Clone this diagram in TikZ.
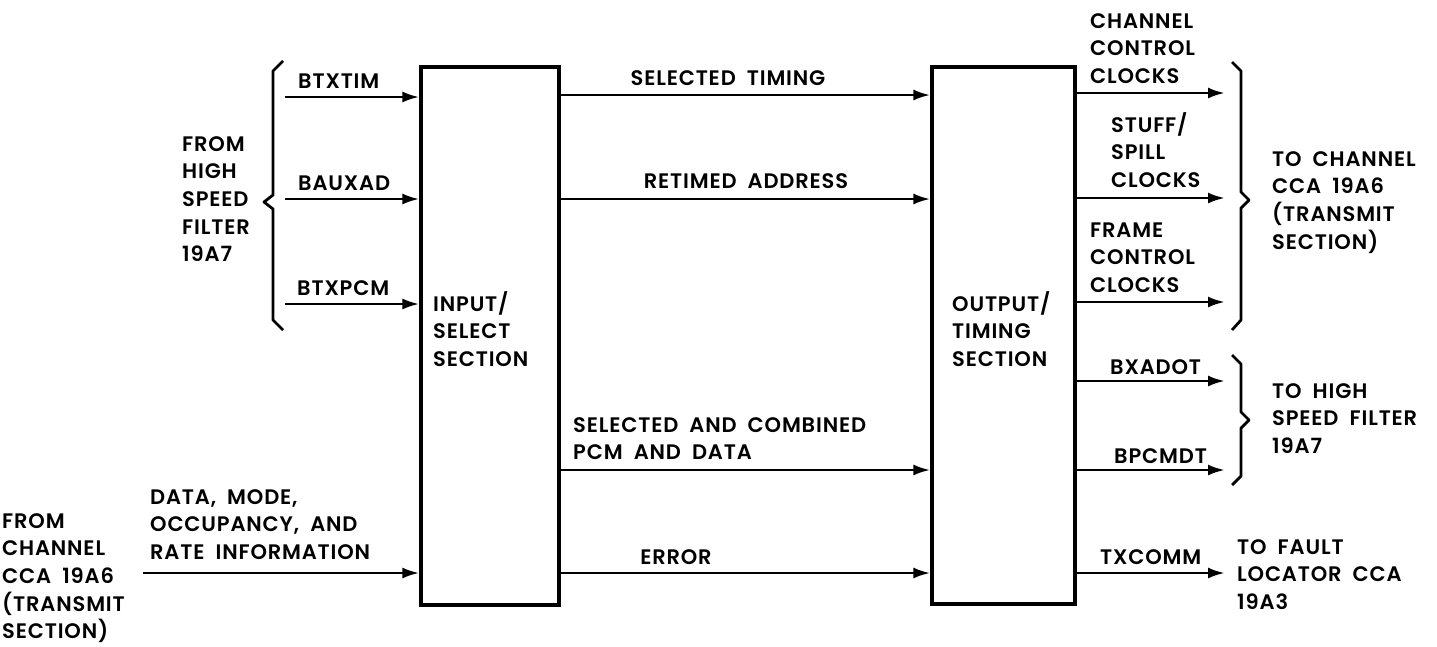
\documentclass[tikz,border=0pt]{standalone}
\usepackage{fontspec}
\setmainfont{Poppins}[UprightFont={* SemiBold}, LetterSpace=4, WordSpace=1.9]
\usetikzlibrary{arrows.meta}
\tikzset{
  box/.style={draw, line width=3.2pt, minimum width=138pt, minimum height=538pt, inner sep=0pt},
  arr/.style={line width=2.8pt, -{Latex[length=17pt,width=11pt]}},
  brc/.style={line width=2.8pt, line join=round},
  lbl/.style={anchor=base west, inner sep=0pt, align=left, font=\fontsize{21}{27.7}\selectfont},
  lblc/.style={lbl, anchor=base},
}
\begin{document}
\begin{tikzpicture}[x=1pt,y=-1pt]
\useasboundingbox (0,0) rectangle (1437,646);
% boxes
\node[box] (inp) at (490,336) {};
\node[box, minimum width=143pt, minimum height=537pt] (out) at (1003.5,335.5) {};
\node[lbl] (inptxt) at (433,366.4) {INPUT/\\SELECT\\SECTION};
\node[lbl] (outtxt) at (952,366.4) {OUTPUT/\\TIMING\\SECTION};
% left inputs
\coordinate (i1) at (285,97);
\coordinate (i2) at (285,199);
\coordinate (i3) at (285,304);
\coordinate (i4) at (143,573);
\draw[arr] (i1) -- (inp.west |- i1);
\draw[arr] (i2) -- (inp.west |- i2);
\draw[arr] (i3) -- (inp.west |- i3);
\draw[arr] (i4) -- (inp.west |- i4);
\node[lbl] (l1) at (298,88) {BTXTIM};
\node[lbl] (l2) at (298,190) {BAUXAD};
\node[lbl] (l3) at (297,295) {BTXPCM};
\node[lbl] (fromhs) at (182,261.8) {FROM\\HIGH\\SPEED\\FILTER\\19A7};
\draw[brc] (283,61) -- (273,71) -- (273,195) -- (264,202) -- (273,209) -- (273,320) -- (283,330);
\node[lbl] (datalbl) at (150,559.4) {DATA, MODE,\\OCCUPANCY, AND\\RATE INFORMATION};
\node[lbl] (fromch) at (2,638.8) {FROM\\CHANNEL\\CCA 19A6\\(TRANSMIT\\SECTION)};
% middle
\coordinate (m1) at (0,95);
\coordinate (m2) at (0,199);
\coordinate (m3) at (0,470);
\coordinate (m4) at (0,573);
\draw[arr] (inp.east |- m1) -- (out.west |- m1);
\draw[arr] (inp.east |- m2) -- (out.west |- m2);
\draw[arr] (inp.east |- m3) -- (out.west |- m3);
\draw[arr] (inp.east |- m4) -- (out.west |- m4);
\node[lblc] (seltim) at (728,85) {SELECTED TIMING};
\node[lblc] (retad) at (746,188) {RETIMED ADDRESS};
\node[lbl] (selcomb) at (573,459.7) {SELECTED AND COMBINED\\PCM AND DATA};
\node[lblc] (err) at (676,564) {ERROR};
% outputs
\coordinate (o1) at (1225,93);
\coordinate (o2) at (1225,198);
\coordinate (o3) at (1225,302);
\coordinate (o4) at (1225,381);
\coordinate (o5) at (1225,470);
\coordinate (o6) at (1225,573);
\draw[arr] (out.east |- o1) -- (o1);
\draw[arr] (out.east |- o2) -- (o2);
\draw[arr] (out.east |- o3) -- (o3);
\draw[arr] (out.east |- o4) -- (o4);
\draw[arr] (out.east |- o5) -- (o5);
\draw[arr] (out.east |- o6) -- (o6);
\node[lbl] (ccc) at (1090,83.4) {CHANNEL\\CONTROL\\CLOCKS};
\node[lbl] (ssc) at (1111,187.4) {STUFF/\\SPILL\\CLOCKS};
\node[lbl] (fcc) at (1090,292.4) {FRAME\\CONTROL\\CLOCKS};
\node[lbl] (bxa) at (1110,374) {BXADOT};
\node[lbl] (bpc) at (1114,463) {BPCMDT};
\node[lbl] (txc) at (1100,564) {TXCOMM};
\draw[brc] (1232,62) -- (1241,71) -- (1241,192) -- (1249,200) -- (1241,208) -- (1241,320) -- (1232,330);
\draw[brc] (1232,355) -- (1241,364) -- (1241,412) -- (1249,420) -- (1241,428) -- (1241,476) -- (1232,485);
\node[lbl] (toch) at (1272,249.1) {TO CHANNEL\\CCA 19A6\\(TRANSMIT\\SECTION)};
\node[lbl] (tohs) at (1272,453.4) {TO HIGH\\SPEED FILTER\\19A7};
\node[lbl] (tofl) at (1237,609.4) {TO FAULT\\LOCATOR CCA\\19A3};
\end{tikzpicture}
\end{document}
